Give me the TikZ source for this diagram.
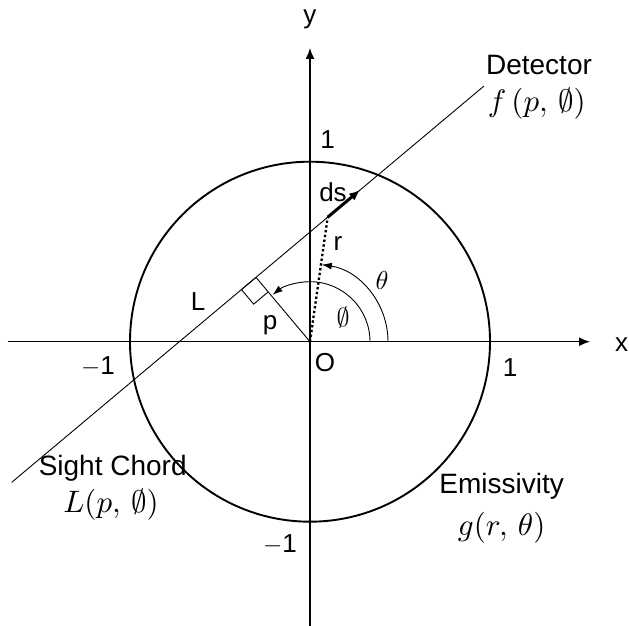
\documentclass[tikz,border=0pt]{standalone}
\usepackage{graphicx}
\usepackage{fontspec}
\setmainfont{Liberation Sans}
\usetikzlibrary{arrows.meta,calc}
\tikzset{
  lbl/.style={font=\fontsize{26}{29}\selectfont, inner sep=0pt},
  biglbl/.style={font=\fontsize{28}{32}\selectfont, inner sep=0pt},
  mathlbl/.style={inner sep=0pt},
  axisline/.style={line width=1.4pt, -{Latex[length=11pt,width=9pt]}},
  circline/.style={line width=1.9pt},
  thinline/.style={line width=0.9pt},
  arcline/.style={line width=0.9pt, -{Latex[length=10pt,width=7pt]}},
  dotline/.style={line width=2.3pt, dash pattern=on 2.4pt off 2.4pt},
  dsline/.style={line width=3pt, -{Latex[length=11pt,width=9pt]}}
}
\newcommand{\bigmath}[1]{\scalebox{3.1}{$#1$}}
\newcommand{\symmath}[1]{\scalebox{2.6}{$#1$}}
\begin{document}
\begin{tikzpicture}[x=1pt,y=1pt]
\useasboundingbox (-310,-284.3) rectangle (319,341.7);
\coordinate (O) at (0,0);
% circle
\draw[circline] (O) circle[radius=180];
% axes
\coordinate (xs) at (-302,0);
\coordinate (xe) at (280,0);
\coordinate (ys) at (0,-284.3);
\coordinate (ye) at (0,293.7);
\draw[axisline] (xs) -- (xe);
\draw[axisline] (ys) -- (ye);
% sight chord
\coordinate (F) at (130:84);
\coordinate (C1) at ($(F)+(220:318.9)$);
\coordinate (C2) at ($(F)+(40:297.6)$);
\coordinate (P) at ($(F)+(40:93.6)$);
\coordinate (Q) at ($(F)+(40:136)$);
\draw[thinline] (C1) -- (C2);
\draw[thinline] (O) -- (F);
\draw[thinline] (F) -- ++(220:19) coordinate (S1) -- ++(310:19) coordinate (S2) -- ++(40:19) coordinate (S3);
% r and ds
\draw[dotline] (O) -- (P);
\draw[dsline] (P) -- (Q);
% angle arcs
\coordinate (t0) at (78,0);
\coordinate (p0) at (60,0);
\draw[arcline] (t0) arc[start angle=0, end angle=81.3, radius=78];
\draw[arcline] (p0) arc[start angle=0, end angle=128.5, radius=60];
% labels
\node[lbl] (xl) at (311.7,-3) {x};
\node[lbl] (yl) at (0,322) {y};
\node[lbl] (one1) at (17.7,201.7) {1};
\node[lbl] (one2) at (200,-26.3) {1};
\node[lbl] (mone1) at (-212,-25.3) {$-$1};
\node[lbl] (mone2) at (-30,-203.3) {$-$1};
\node[lbl] (ol) at (15,-21) {O};
\node[lbl] (dsl) at (23,149) {ds};
\node[lbl] (rl) at (28,98) {r};
\node[lbl] (pl) at (-40,16) {p};
\node[lbl] (ll) at (-112,39.7) {L};
\node[mathlbl] (thl) at (72,61.7) {\symmath{\theta}};
\node[mathlbl] (phl) at (33,24.7) {\symmath{\emptyset}};
\node[biglbl] (det) at (229,276.7) {Detector};
\node[mathlbl] (fdet) at (226.7,238.4) {\bigmath{f\,(p,\,\emptyset)}};
\node[biglbl] (sc) at (-197.3,-126.3) {Sight Chord};
\node[mathlbl] (lsc) at (-199,-163.3) {\bigmath{L(p,\,\emptyset)}};
\node[biglbl] (em) at (191.7,-145) {Emissivity};
\node[mathlbl] (gem) at (191.7,-186.3) {\bigmath{g(r,\,\theta)}};
\end{tikzpicture}
\end{document}
